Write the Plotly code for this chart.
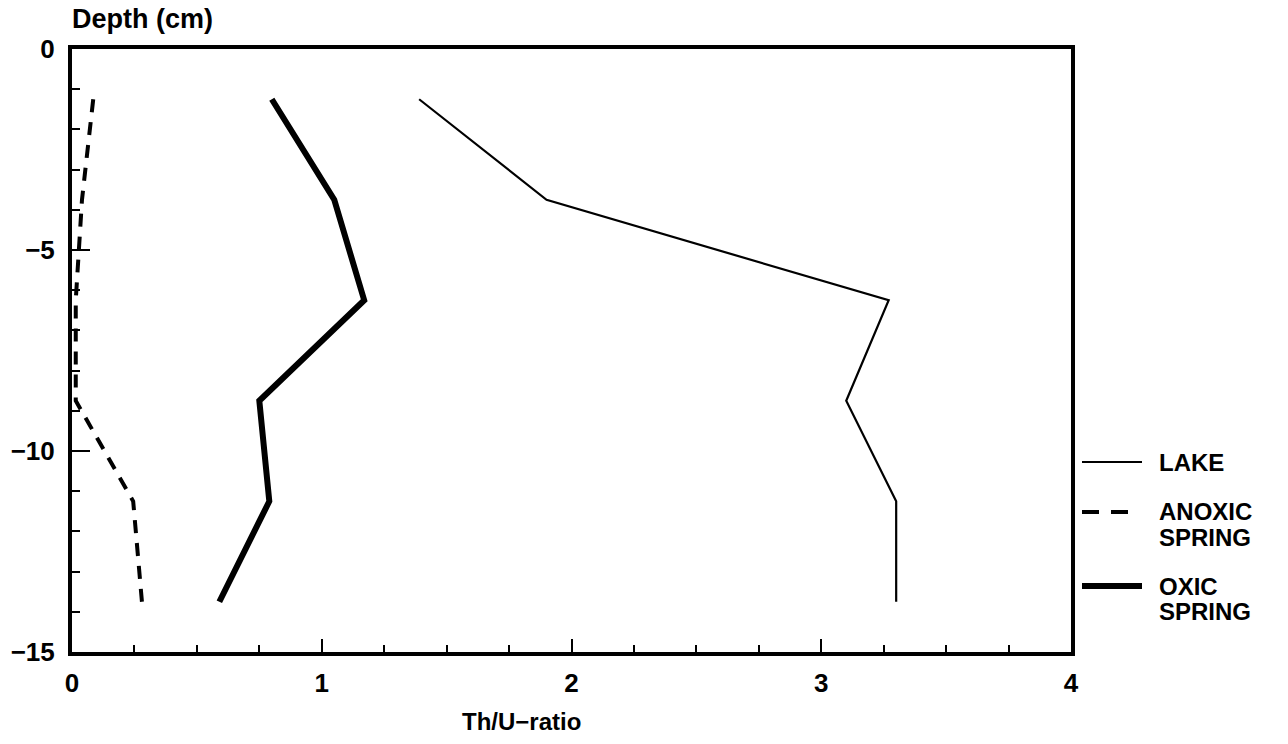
import plotly.graph_objects as go

# Sediment depth profiles of the Th/U activity ratio
depth_cm = [-1.25, -3.75, -6.25, -8.75, -11.25, -13.75]
lake = [1.39, 1.90, 3.27, 3.10, 3.30, 3.30]
anoxic_spring = [0.085, 0.04, 0.015, 0.015, 0.245, 0.28]
oxic_spring = [0.80, 1.05, 1.17, 0.75, 0.79, 0.59]

series_names = ["LAKE", "ANOXIC SPRING", "OXIC SPRING"]
x_ticks = [0, 1, 2, 3, 4]
y_ticks = [0, -5, -10, -15]

FONT = "Liberation Sans, Arial, sans-serif"
W, H = 1288, 744
M = dict(l=72, r=217, t=49, b=92)

styles = [
    dict(color="black", width=2.2, dash="solid"),
    dict(color="black", width=4, dash="13px,10px"),
    dict(color="black", width=6, dash="solid"),
]

fig = go.Figure()
for name, xs, st in zip(series_names, [lake, anoxic_spring, oxic_spring], styles):
    fig.add_trace(go.Scatter(x=xs, y=depth_cm, mode="lines", name=name,
                             line=st, showlegend=False))

tickfont = dict(family=FONT, size=26, color="black", weight="bold")

fig.update_xaxes(range=[0, 4], tickvals=x_ticks, ticktext=[str(v) for v in x_ticks],
                 ticks="inside", ticklen=13, tickwidth=1.5, tickcolor="black",
                 minor=dict(dtick=0.25, ticks="inside", ticklen=7, tickwidth=1.5, tickcolor="black"),
                 showline=True, linewidth=4, linecolor="black", mirror=True,
                 showgrid=False, zeroline=False, tickfont=tickfont, ticklabelstandoff=5)
fig.update_yaxes(range=[-15, 0], tickvals=y_ticks, ticktext=["0", "\u22125", "\u221210", "\u221215"],
                 ticks="inside", ticklen=18, tickwidth=1.5, tickcolor="black",
                 minor=dict(dtick=1, ticks="inside", ticklen=8, tickwidth=1.5, tickcolor="black"),
                 showline=True, linewidth=4, linecolor="black", mirror=True,
                 showgrid=False, zeroline=False, tickfont=tickfont, ticklabelstandoff=8)

pw = W - M["l"] - M["r"]
ph = H - M["t"] - M["b"]


def px(x):
    return (x - M["l"]) / pw


def py(y):
    return 1 - (y - M["t"]) / ph


annotations = [
    dict(text="Depth (cm)", x=px(70), y=py(19), xref="paper", yref="paper",
         xanchor="left", yanchor="middle", showarrow=False,
         font=dict(family=FONT, size=27, color="black", weight="bold")),
    dict(text="Th/U\u2212ratio", x=px(521), y=py(721), xref="paper", yref="paper",
         xanchor="center", yanchor="middle", showarrow=False,
         font=dict(family=FONT, size=24, color="black", weight="bold")),
]

# Legend drawn beside the plot: sample line plus label lines per series
legend_rows = [462, 512, 586]
legend_dashes = ["solid", "17px,12px", "solid"]
legend_ends = [1142, 1128, 1142]
line_gap = 25
shapes = []
for name, st, yrow, dsh, xend in zip(series_names, styles, legend_rows, legend_dashes, legend_ends):
    shapes.append(dict(type="line", xref="paper", yref="paper",
                       x0=px(1082), x1=px(xend), y0=py(yrow), y1=py(yrow),
                       line=dict(color=st["color"], width=st["width"], dash=dsh)))
    for i, word in enumerate(name.split(" ")):
        annotations.append(dict(text=word, x=px(1157), y=py(yrow + i * line_gap),
                                xref="paper", yref="paper",
                                xanchor="left", yanchor="middle", showarrow=False,
                                font=dict(family=FONT, size=24, color="black", weight="bold")))

fig.update_layout(width=W, height=H, margin=M, plot_bgcolor="white", paper_bgcolor="white",
                  annotations=annotations, shapes=shapes, showlegend=False)

fig.write_html("out.html")
